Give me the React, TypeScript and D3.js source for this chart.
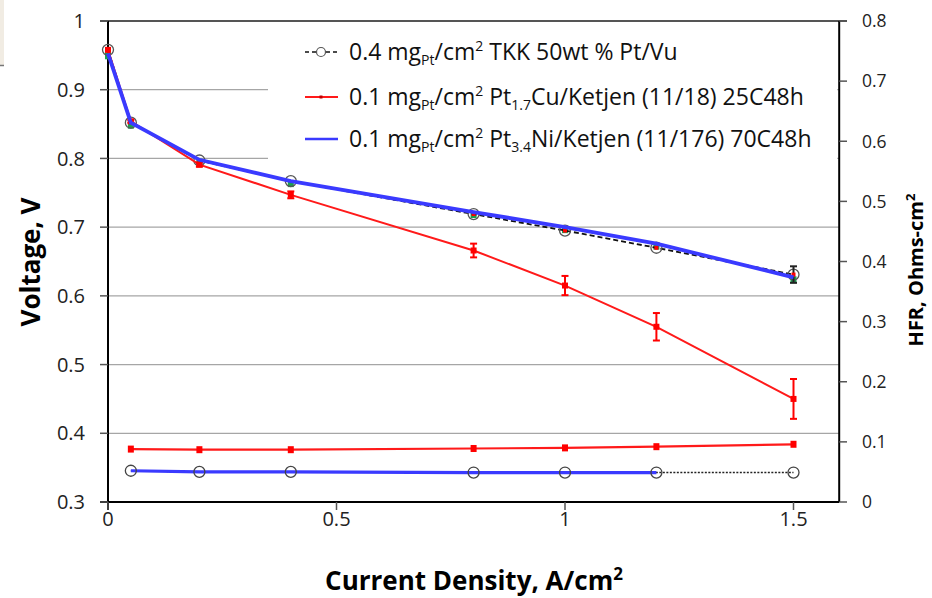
import React from "react";
import * as d3 from "d3";

const currentV = [0, 0.05, 0.2, 0.4, 0.8, 1.0, 1.2, 1.5];
const tkkV = [0.958, 0.852, 0.797, 0.767, 0.719, 0.695, 0.670, 0.631];
const tkkVErr = [0, 0, 0, 0, 0, 0, 0, 0.012];
const cuV = [0.958, 0.854, 0.791, 0.747, 0.666, 0.615, 0.555, 0.450];
const cuVErr = [0, 0.002, 0.003, 0.005, 0.01, 0.014, 0.02, 0.029];
const niV = [0.953, 0.852, 0.798, 0.767, 0.722, 0.700, 0.676, 0.627];

const currentH = [0.05, 0.2, 0.4, 0.8, 1.0, 1.2, 1.5];
const tkkH = [0.052, 0.050, 0.050, 0.049, 0.049, 0.049, 0.049];
const cuH = [0.088, 0.087, 0.087, 0.089, 0.090, 0.092, 0.096];
const niH = [0.052, 0.050, 0.050, 0.049, 0.049, 0.049];

const xTicks = [0, 0.5, 1, 1.5];
const xTickLabels = ["0", "0.5", "1", "1.5"];
const yTicks = [0.3, 0.4, 0.5, 0.6, 0.7, 0.8, 0.9, 1];
const yTickLabels = ["0.3", "0.4", "0.5", "0.6", "0.7", "0.8", "0.9", "1"];
const y2Ticks = [0, 0.1, 0.2, 0.3, 0.4, 0.5, 0.6, 0.7, 0.8];
const y2TickLabels = ["0", "0.1", "0.2", "0.3", "0.4", "0.5", "0.6", "0.7", "0.8"];

const FONT = "'Open Sans', Lato, sans-serif";

export default function App() {
  const L = 108, R = 839.2, T = 21, B = 502;
  const x = d3.scaleLinear().domain([0, 1.6]).range([L, R]);
  const y = d3.scaleLinear().domain([0.3, 1]).range([B, T]);
  const y2 = d3.scaleLinear().domain([0, 0.8]).range([B, T]);

  const lineV = (vals: number[]) =>
    d3.line<number>().x((_, i) => x(currentV[i])).y((v) => y(v))(vals) || "";
  const lineH = (vals: number[]) =>
    d3.line<number>().x((_, i) => x(currentH[i])).y((v) => y2(v))(vals) || "";

  const errBars = (vals: number[], errs: number[], color: string, key: string) =>
    vals.map((v, i) =>
      errs[i] > 0 ? (
        <g key={key + i} stroke={color} strokeWidth={2}>
          <line x1={x(currentV[i])} x2={x(currentV[i])} y1={y(v - errs[i])} y2={y(v + errs[i])} />
          <line x1={x(currentV[i]) - 3.5} x2={x(currentV[i]) + 3.5} y1={y(v - errs[i])} y2={y(v - errs[i])} />
          <line x1={x(currentV[i]) - 3.5} x2={x(currentV[i]) + 3.5} y1={y(v + errs[i])} y2={y(v + errs[i])} />
        </g>
      ) : null
    );

  const legendRows = [
    { y: 52, kind: "tkk" },
    { y: 97, kind: "cu" },
    { y: 139, kind: "ni" },
  ];

  return (
    <svg width={932} height={598} style={{ position: "absolute", left: 0, top: 0, background: "#fff" }}
      fontFamily={FONT}>
      <rect x={0} y={0} width={932} height={598} fill="#fff" />
      {/* top-left artifact */}
      <rect x={0} y={0} width={4} height={65} fill="#f1ece3" />
      <line x1={0} x2={4} y1={65.5} y2={65.5} stroke="#777" strokeWidth={1.5} />

      {/* gridlines */}
      {yTicks.filter((t) => t > 0.3 && t < 1).map((t) => (
        <line key={"g" + t} x1={L} x2={R} y1={y(t)} y2={y(t)} stroke="#a6a6a6" strokeWidth={1.3} />
      ))}
      {/* legend box */}
      <rect x={268} y={23} width={R - 270} height={150} fill="#fff" />

      {/* axes */}
      <line x1={100} x2={847} y1={T} y2={T} stroke="#555" strokeWidth={2} />
      <line x1={L} x2={L} y1={T} y2={B + 8} stroke="#000" strokeWidth={2} />
      <line x1={R} x2={R} y1={T} y2={B} stroke="#000" strokeWidth={2} />
      <line x1={100} x2={R} y1={B} y2={B} stroke="#000" strokeWidth={2} />
      {yTicks.map((t) => (
        <line key={"yt" + t} x1={100} x2={L} y1={y(t)} y2={y(t)} stroke="#555" strokeWidth={1.5} />
      ))}
      {y2Ticks.map((t) => (
        <line key={"y2t" + t} x1={R} x2={847} y1={y2(t)} y2={y2(t)} stroke="#555" strokeWidth={1.5} />
      ))}
      {xTicks.map((t) => (
        <line key={"xt" + t} x1={x(t)} x2={x(t)} y1={B} y2={B + 8} stroke="#555" strokeWidth={1.5} />
      ))}

      {/* tick labels */}
      {yTicks.map((t, i) => (
        <text key={"yl" + t} x={85} y={y(t)} dy="0.36em" textAnchor="end" fontSize={20} fill="#222">
          {yTickLabels[i]}
        </text>
      ))}
      {y2Ticks.map((t, i) => (
        <text key={"y2l" + t} x={862} y={y2(t)} dy="0.36em" textAnchor="start" fontSize={17.5} fill="#222">
          {y2TickLabels[i]}
        </text>
      ))}
      {xTicks.map((t, i) => (
        <text key={"xl" + t} x={x(t)} y={526} textAnchor="middle" fontSize={20} fill="#222">
          {xTickLabels[i]}
        </text>
      ))}

      {/* axis titles */}
      <text transform="translate(40,262) rotate(-90)" textAnchor="middle" fontSize={26} fontWeight="bold">
        Voltage, V
      </text>
      <text x={474} y={590} textAnchor="middle" fontSize={26} fontWeight="bold">
        Current Density, A/cm<tspan dy={-10} fontSize={17}>2</tspan>
      </text>
      <text transform="translate(923,270) rotate(-90)" textAnchor="middle" fontSize={20} fontWeight="bold">
        HFR, Ohms-cm<tspan dy={-8} fontSize={13}>2</tspan>
      </text>

      {/* hidden green markers beneath blue */}
      {niV.map((v, i) => (
        <rect key={"gn" + i} x={x(currentV[i]) - 3} y={y(v) - 1} width={6} height={7} fill="#1aa050" />
      ))}

      {/* HFR series */}
      <path d={lineH(tkkH)} fill="none" stroke="#222" strokeWidth={1.5} strokeDasharray="2,1.5" />
      <path d={lineH(cuH)} fill="none" stroke="#ff1a1a" strokeWidth={2.2} />
      {cuH.map((v, i) => (
        <rect key={"ch" + i} x={x(currentH[i]) - 3} y={y2(v) - 3.5} width={6} height={7} fill="#ff0000" />
      ))}
      <path d={lineH(niH)} fill="none" stroke="#3a3aff" strokeWidth={3.2} />
      {tkkH.map((v, i) => (
        <circle key={"th" + i} cx={x(currentH[i])} cy={y2(v)} r={5.5} fill="none" stroke="#444" strokeWidth={1.3} />
      ))}

      {/* Voltage series */}
      <path d={lineV(tkkV)} fill="none" stroke="#111" strokeWidth={1.8} strokeDasharray="5,3" />
      {tkkV.map((v, i) => (
        <circle key={"tv" + i} cx={x(currentV[i])} cy={y(v)} r={5.5} fill="none" stroke="#555" strokeWidth={1.3} />
      ))}
      {errBars(tkkV, tkkVErr, "#222", "te")}
      {tkkV.map((v, i) =>
        currentV[i] >= 0.8 || currentV[i] === 0 ? (
          <rect key={"tr" + i} x={x(currentV[i]) - 2} y={y(v) - 2} width={4} height={4} fill="#ff0000" />
        ) : null
      )}
      <path d={lineV(cuV)} fill="none" stroke="#ff1a1a" strokeWidth={2} />
      {errBars(cuV, cuVErr, "#ff0000", "ce")}
      {cuV.map((v, i) => (
        <rect key={"cv" + i} x={x(currentV[i]) - 3} y={y(v) - 3} width={6} height={6} fill="#ff0000" />
      ))}
      <path d={lineV(niV)} fill="none" stroke="#3a3aff" strokeWidth={3.8} />

      {/* legend */}
      {legendRows.map((r) => (
        <g key={r.kind}>
          {r.kind === "tkk" && (
            <g>
              <line x1={305} x2={338} y1={r.y} y2={r.y} stroke="#111" strokeWidth={1.5} strokeDasharray="4,3" />
              <circle cx={321} cy={r.y} r={4.5} fill="#fff" stroke="#555" strokeWidth={1.2} />
            </g>
          )}
          {r.kind === "cu" && (
            <g>
              <line x1={305} x2={338} y1={r.y} y2={r.y} stroke="#ff1a1a" strokeWidth={2} />
              <rect x={319.5} y={r.y - 1.5} width={3} height={3} fill="#c00000" />
            </g>
          )}
          {r.kind === "ni" && <line x1={305} x2={338} y1={r.y} y2={r.y} stroke="#3a3aff" strokeWidth={2.5} />}
        </g>
      ))}
      <g fontSize={23} fill="#111">
        <text x={349} y={60}>
          0.4 mg<tspan dy={5} fontSize={14}>Pt</tspan>
          <tspan dy={-5}>/cm</tspan>
          <tspan dy={-9} fontSize={14}>2</tspan>
          <tspan dy={9}> TKK 50wt % Pt/Vu</tspan>
        </text>
        <text x={349} y={105}>
          0.1 mg<tspan dy={5} fontSize={14}>Pt</tspan>
          <tspan dy={-5}>/cm</tspan>
          <tspan dy={-9} fontSize={14}>2</tspan>
          <tspan dy={9}> Pt</tspan>
          <tspan dy={5} fontSize={14}>1.7</tspan>
          <tspan dy={-5}>Cu/Ketjen (11/18) 25C48h</tspan>
        </text>
        <text x={349} y={147}>
          0.1 mg<tspan dy={5} fontSize={14}>Pt</tspan>
          <tspan dy={-5}>/cm</tspan>
          <tspan dy={-9} fontSize={14}>2</tspan>
          <tspan dy={9}> Pt</tspan>
          <tspan dy={5} fontSize={14}>3.4</tspan>
          <tspan dy={-5}>Ni/Ketjen (11/176) 70C48h</tspan>
        </text>
      </g>
    </svg>
  );
}
